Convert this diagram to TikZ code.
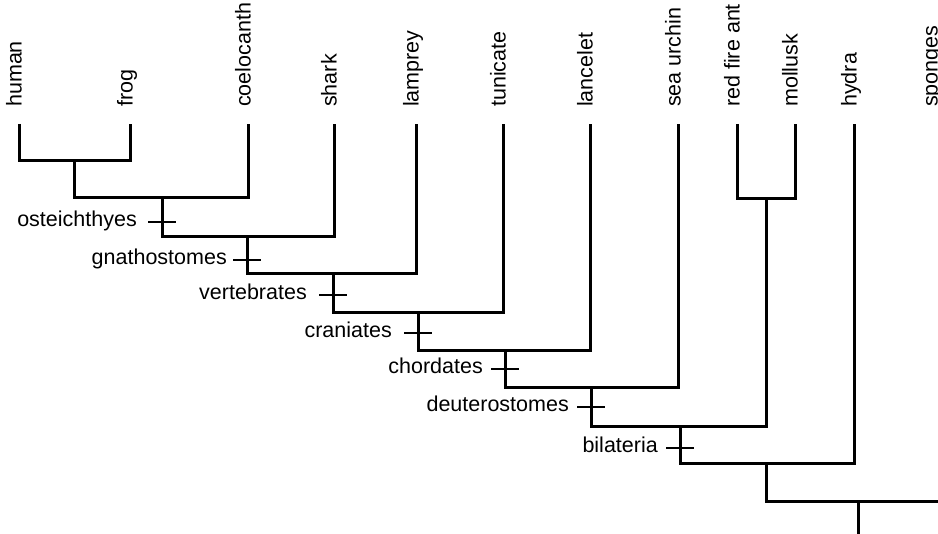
\documentclass[tikz,border=0pt]{standalone}
\usepackage{fontspec}
\setmainfont{Liberation Sans}
\begin{document}
\begin{tikzpicture}[x=1pt,y=-1pt,
  branch/.style={line width=3pt, line join=miter},
  tickmark/.style={line width=2.8pt},
  leaflabel/.style={rotate=90, anchor=mid west, inner sep=0pt, font=\fontsize{21.5}{24}\selectfont},
  cladelabel/.style={anchor=mid east, inner sep=0pt, font=\fontsize{21.5}{24}\selectfont}]
\useasboundingbox (0,0) rectangle (938,534);
\clip (0,0) rectangle (938,534);
% leaf labels
\node[leaflabel] (Lhuman)    at (19,107)  {human};
\node[leaflabel] (Lfrog)     at (130,107) {frog};
\node[leaflabel] (Lcoel)     at (248,107) {coelocanth};
\node[leaflabel] (Lshark)    at (334,107) {shark};
\node[leaflabel] (Llamprey)  at (416,107) {lamprey};
\node[leaflabel] (Ltunicate) at (503,107) {tunicate};
\node[leaflabel] (Llancelet) at (590,107) {lancelet};
\node[leaflabel] (Lurchin)   at (678,107) {sea urchin};
\node[leaflabel] (Lant)      at (737,107) {red fire ant};
\node[leaflabel] (Lmollusk)  at (795,107) {mollusk};
\node[leaflabel] (Lhydra)    at (854,107) {hydra};
\node[leaflabel] (Lsponges)  at (935,107) {sponges};
% leaf tips
\coordinate (human)    at (19,124);
\coordinate (frog)     at (130,124);
\coordinate (coel)     at (248,124);
\coordinate (shark)    at (334,124);
\coordinate (lamprey)  at (416,124);
\coordinate (tunicate) at (503,124);
\coordinate (lancelet) at (590,124);
\coordinate (urchin)   at (678,124);
\coordinate (ant)      at (737,124);
\coordinate (mollusk)  at (795,124);
\coordinate (hydra)    at (854,124);
\coordinate (sponges)  at (941,124);
% internal nodes
\coordinate (n1)  at (74,161);
\coordinate (n2)  at (162,198);
\coordinate (n3)  at (247,237);
\coordinate (n4)  at (333,274);
\coordinate (n5)  at (418,313);
\coordinate (n6)  at (505,351);
\coordinate (n7)  at (591,388);
\coordinate (nAM) at (766,199);
\coordinate (n8)  at (680,427);
\coordinate (n9)  at (766,464);
\coordinate (n10) at (858,502);
\coordinate (root) at (858,545);
% branches
\draw[branch] (human) |- (n1) -| (frog);
\draw[branch] (n1) |- (n2) -| (coel);
\draw[branch] (n2) |- (n3) -| (shark);
\draw[branch] (n3) |- (n4) -| (lamprey);
\draw[branch] (n4) |- (n5) -| (tunicate);
\draw[branch] (n5) |- (n6) -| (lancelet);
\draw[branch] (n6) |- (n7) -| (urchin);
\draw[branch] (ant) |- (nAM) -| (mollusk);
\draw[branch] (n7) |- (n8) -| (nAM);
\draw[branch] (n8) |- (n9) -| (hydra);
\draw[branch] (n9) |- (n10) -| (sponges);
\draw[branch] (n10) -- (root);
% clade ticks
\coordinate (tOst) at (162,222);
\coordinate (tGna) at (247,260);
\coordinate (tVer) at (333,295);
\coordinate (tCra) at (418,333);
\coordinate (tCho) at (505,369);
\coordinate (tDeu) at (591,407);
\coordinate (tBil) at (680,448);
\foreach \t in {tOst,tGna,tVer,tCra,tCho,tDeu,tBil}
  \draw[tickmark] ([xshift=-14pt]\t) -- ([xshift=14pt]\t);
% clade labels
\node[cladelabel] (Lost) at (137,224) {osteichthyes};
\node[cladelabel] (Lgna) at (227,262) {gnathostomes};
\node[cladelabel] (Lver) at (307,297) {vertebrates};
\node[cladelabel] (Lcra) at (392,335) {craniates};
\node[cladelabel] (Lcho) at (483,371) {chordates};
\node[cladelabel] (Ldeu) at (569,409) {deuterostomes};
\node[cladelabel] (Lbil) at (658,450) {bilateria};
\end{tikzpicture}
\end{document}
